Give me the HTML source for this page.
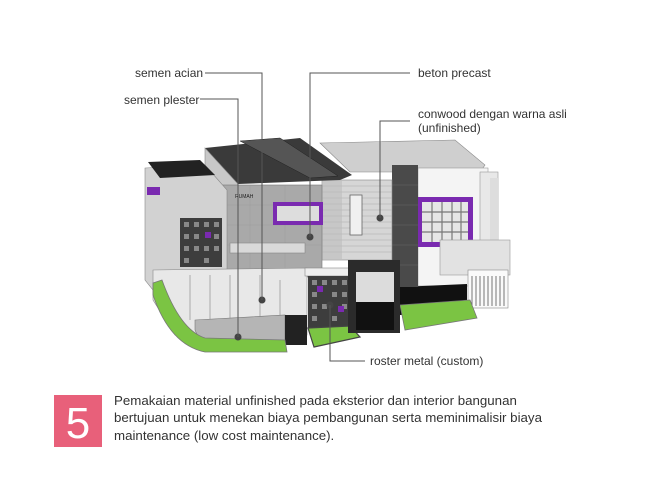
<!DOCTYPE html>
<html><head><meta charset="utf-8"><style>
html,body{margin:0;padding:0;background:#fff;}
svg{display:block}
text{font-family:"Liberation Sans",Arial,sans-serif;fill:#333}
</style></head><body>
<svg width="665" height="493" viewBox="0 0 665 493">
<rect width="665" height="493" fill="#fff"/>
<polygon points="320,143 455,140 485,165 480,172 350,172" fill="#cfcfcf" stroke="#888" stroke-width="0.6"/>
<rect x="418" y="168" width="70" height="118" fill="#f4f4f4" stroke="#999" stroke-width="0.6"/>
<rect x="480" y="172" width="18" height="100" fill="#e8e8e8" stroke="#999" stroke-width="0.6"/>
<rect x="490" y="178" width="8" height="95" fill="#ddd"/>
<rect x="417" y="197" width="56" height="50" fill="#7a2ab0"/>
<rect x="422" y="202" width="46" height="40" fill="#e6e6e6"/>
<g stroke="#777" stroke-width="1.2">
<line x1="422" y1="212" x2="468" y2="212"/><line x1="422" y1="222" x2="468" y2="222"/><line x1="422" y1="232" x2="468" y2="232"/>
<line x1="432" y1="202" x2="432" y2="242"/><line x1="442" y1="202" x2="442" y2="242"/><line x1="452" y1="202" x2="452" y2="242"/><line x1="461" y1="202" x2="461" y2="242"/>
</g>
<rect x="440" y="240" width="70" height="35" fill="#e2e2e2" stroke="#999" stroke-width="0.6"/>
<rect x="468" y="270" width="40" height="38" fill="#fafafa" stroke="#888" stroke-width="0.6"/>
<g stroke="#555" stroke-width="0.8">
<line x1="472" y1="276" x2="472" y2="306"/><line x1="476" y1="276" x2="476" y2="306"/><line x1="480" y1="276" x2="480" y2="306"/><line x1="484" y1="276" x2="484" y2="306"/><line x1="488" y1="276" x2="488" y2="306"/><line x1="492" y1="276" x2="492" y2="306"/><line x1="496" y1="276" x2="496" y2="306"/><line x1="500" y1="276" x2="500" y2="306"/><line x1="504" y1="276" x2="504" y2="306"/>
</g>
<polygon points="400,287 467,284 467,312 400,315" fill="#111"/>
<polygon points="400,305 470,300 477,318 405,330" fill="#7bc443" stroke="#777" stroke-width="0.8"/>
<rect x="392" y="165" width="26" height="122" fill="#4a4a4a"/>
<g stroke="#666" stroke-width="0.5"><line x1="392" y1="185" x2="418" y2="185"/><line x1="392" y1="205" x2="418" y2="205"/><line x1="392" y1="225" x2="418" y2="225"/><line x1="392" y1="245" x2="418" y2="245"/><line x1="392" y1="265" x2="418" y2="265"/></g>
<rect x="322" y="180" width="70" height="80" fill="#d6d6d6" stroke="#888" stroke-width="0.6"/>
<g stroke="#aaa" stroke-width="0.6">
<line x1="322" y1="186" x2="392" y2="186"/><line x1="322" y1="192" x2="392" y2="192"/><line x1="322" y1="198" x2="392" y2="198"/><line x1="322" y1="204" x2="392" y2="204"/><line x1="322" y1="210" x2="392" y2="210"/><line x1="322" y1="216" x2="392" y2="216"/><line x1="322" y1="222" x2="392" y2="222"/><line x1="322" y1="228" x2="392" y2="228"/><line x1="322" y1="234" x2="392" y2="234"/><line x1="322" y1="240" x2="392" y2="240"/><line x1="322" y1="246" x2="392" y2="246"/><line x1="322" y1="252" x2="392" y2="252"/>
</g>
<rect x="322" y="180" width="20" height="80" fill="#bdbdbd" opacity="0.6"/>
<rect x="350" y="195" width="12" height="40" fill="#f0f0f0" stroke="#666" stroke-width="0.8"/>
<polygon points="205,148 300,138 352,175 340,180 238,184" fill="#3a3a3a"/>
<polygon points="240,141 280,138 338,176 310,178" fill="#555" stroke="#222" stroke-width="0.5"/>
<polygon points="205,148 238,184 238,228 205,228" fill="#c8c8c8" stroke="#888" stroke-width="0.6"/>
<rect x="218" y="185" width="104" height="92" fill="#a9a9a9" stroke="#777" stroke-width="0.6"/>
<g stroke="#999" stroke-width="0.4"><line x1="218" y1="205" x2="322" y2="205"/><line x1="218" y1="225" x2="322" y2="225"/><line x1="218" y1="245" x2="322" y2="245"/><line x1="250" y1="185" x2="250" y2="277"/><line x1="285" y1="185" x2="285" y2="277"/></g>
<rect x="273" y="202" width="50" height="23" fill="#7a2ab0"/>
<rect x="277" y="206" width="42" height="15" fill="#ddd"/>
<text x="235" y="198" font-size="5" style="fill:#222">RUMAH</text>
<rect x="230" y="243" width="75" height="10" fill="#d9d9d9" stroke="#888" stroke-width="0.6"/>
<polygon points="145,168 205,165 227,190 227,275 153,290 145,280" fill="#d2d2d2" stroke="#888" stroke-width="0.6"/>
<polygon points="148,162 200,160 215,175 160,178" fill="#222"/>
<rect x="147" y="187" width="13" height="8" fill="#7a2ab0"/>
<rect x="180" y="218" width="42" height="49" fill="#3d3d3d"/>
<g fill="#888"><rect x="184" y="222" width="5" height="5"/><rect x="194" y="222" width="5" height="5"/><rect x="204" y="222" width="5" height="5"/><rect x="214" y="222" width="5" height="5"/><rect x="184" y="234" width="5" height="5"/><rect x="194" y="234" width="5" height="5"/><rect x="214" y="234" width="5" height="5"/><rect x="184" y="246" width="5" height="5"/><rect x="194" y="246" width="5" height="5"/><rect x="204" y="246" width="5" height="5"/><rect x="214" y="246" width="5" height="5"/><rect x="184" y="258" width="5" height="5"/><rect x="204" y="258" width="5" height="5"/></g>
<rect x="205" y="232" width="6" height="6" fill="#7a2ab0"/>
<polygon points="153,270 307,268 307,335 240,345 175,335 153,300" fill="#e8e8e8" stroke="#888" stroke-width="0.6"/>
<g stroke="#aaa" stroke-width="1"><line x1="190" y1="275" x2="190" y2="320"/><line x1="210" y1="275" x2="210" y2="320"/><line x1="230" y1="275" x2="230" y2="320"/><line x1="260" y1="275" x2="260" y2="320"/><line x1="280" y1="280" x2="280" y2="320"/></g>
<path d="M195,320 L285,315 L285,345 L225,348 Q200,345 195,330 Z" fill="#b5b5b5" stroke="#777" stroke-width="0.6"/>
<rect x="285" y="315" width="22" height="30" fill="#222"/>
<path d="M153,283 L162,280 Q180,330 205,338 L285,340 L287,352 L205,352 Q170,345 153,295 Z" fill="#7bc443" stroke="#777" stroke-width="0.8"/>
<rect x="305" y="268" width="45" height="8" fill="#eee" stroke="#888" stroke-width="0.6"/>
<rect x="308" y="276" width="42" height="54" fill="#3d3d3d"/>
<g fill="#888"><rect x="312" y="280" width="5" height="5"/><rect x="322" y="280" width="5" height="5"/><rect x="332" y="280" width="5" height="5"/><rect x="342" y="280" width="5" height="5"/><rect x="312" y="292" width="5" height="5"/><rect x="332" y="292" width="5" height="5"/><rect x="342" y="292" width="5" height="5"/><rect x="312" y="304" width="5" height="5"/><rect x="322" y="304" width="5" height="5"/><rect x="342" y="304" width="5" height="5"/><rect x="312" y="316" width="5" height="5"/><rect x="332" y="316" width="5" height="5"/></g>
<rect x="317" y="286" width="6" height="6" fill="#7a2ab0"/><rect x="338" y="306" width="6" height="6" fill="#7a2ab0"/>
<polygon points="308,328 350,326 360,337 314,347" fill="#7bc443" stroke="#444" stroke-width="1.2"/>
<rect x="348" y="260" width="52" height="73" fill="#2b2b2b"/>
<rect x="356" y="272" width="38" height="30" fill="#dcdcdc"/>
<rect x="356" y="302" width="38" height="28" fill="#111"/>
<g fill="#444"><circle cx="238" cy="337" r="3.5"/><circle cx="262" cy="300" r="3.5"/><circle cx="310" cy="237" r="3.5"/><circle cx="380" cy="218" r="3.5"/><circle cx="330" cy="305" r="3.5"/></g>
<g stroke="#555" stroke-width="1" fill="none">
<polyline points="205,73 262,73 262,300"/>
<polyline points="200,99 238,99 238,337"/>
<polyline points="410,73 310,73 310,237"/>
<polyline points="410,121 380,121 380,218"/>
<polyline points="365,361 330,361 330,305"/>
</g>
<text x="135" y="77" font-size="12">semen acian</text>
<text x="124" y="104" font-size="12">semen plester</text>
<text x="418" y="77" font-size="12">beton precast</text>
<text x="418" y="118" font-size="12">conwood dengan warna asli</text>
<text x="418" y="132" font-size="12">(unfinished)</text>
<text x="370" y="365" font-size="12">roster metal (custom)</text>
<rect x="54" y="395" width="48" height="52" fill="#e8607a"/>
<text x="78" y="438" font-size="44" text-anchor="middle" style="fill:#fff">5</text>
<text x="114" y="405" font-size="13.3">Pemakaian material unfinished pada eksterior dan interior bangunan</text>
<text x="114" y="422" font-size="13.3">bertujuan untuk menekan biaya pembangunan serta meminimalisir biaya</text>
<text x="114" y="440" font-size="13.3">maintenance (low cost maintenance).</text>
</svg>
</body></html>
